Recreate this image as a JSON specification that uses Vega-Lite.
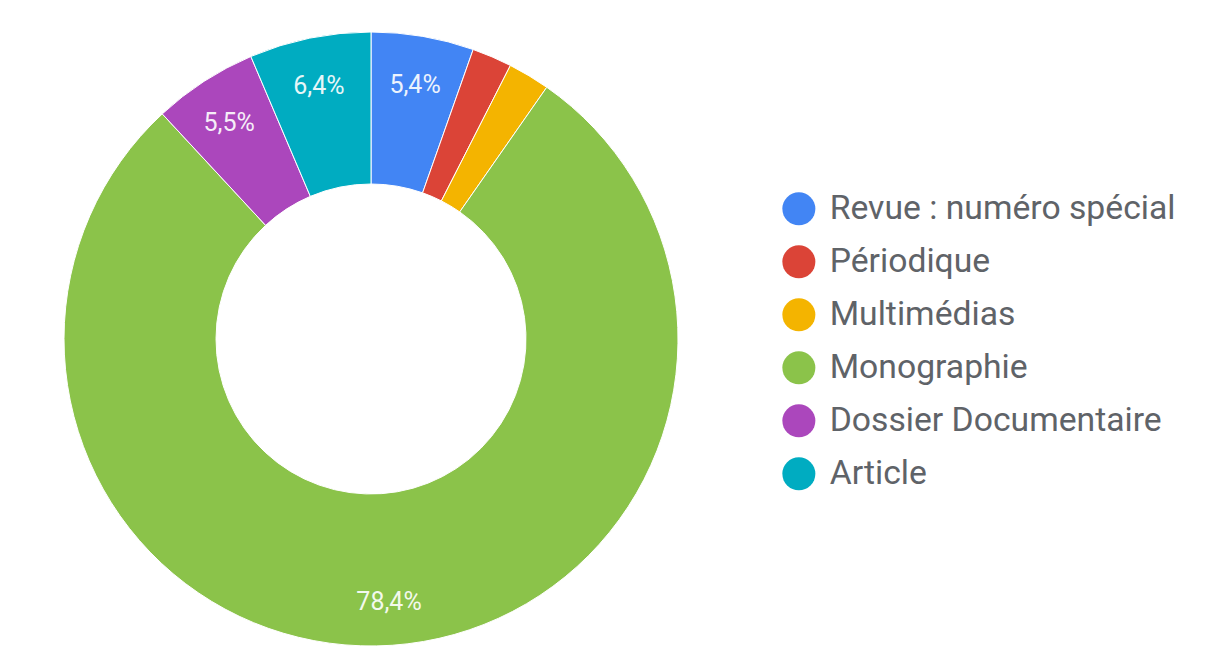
{
  "$schema": "https://vega.github.io/schema/vega-lite/v6.json",
  "autosize": "none",
  "width": 742,
  "height": 632,
  "padding": {"left": 0, "top": 23, "right": 469, "bottom": 0},
  "background": "white",
  "config": {
    "view": {"stroke": null},
    "font": "Roboto",
    "locale": {"number": {"decimal": ",", "thousands": " ", "grouping": [3], "currency": ["", " €"]}}
  },
  "data": {
    "values": [
      {"type": "Revue : numéro spécial", "share": 0.054, "rank": 1},
      {"type": "Périodique", "share": 0.021, "rank": 2},
      {"type": "Multimédias", "share": 0.022, "rank": 3},
      {"type": "Monographie", "share": 0.784, "rank": 4},
      {"type": "Dossier Documentaire", "share": 0.055, "rank": 5},
      {"type": "Article", "share": 0.064, "rank": 6}
    ]
  },
  "encoding": {
    "theta": {"field": "share", "type": "quantitative", "stack": true},
    "order": {"field": "rank", "type": "quantitative"}
  },
  "layer": [
    {
      "mark": {"type": "arc", "outerRadius": 307, "innerRadius": 155, "stroke": "white", "strokeWidth": 1},
      "encoding": {
        "color": {
          "field": "type",
          "type": "nominal",
          "sort": ["Revue : numéro spécial", "Périodique", "Multimédias", "Monographie", "Dossier Documentaire", "Article"],
          "scale": {
            "domain": ["Revue : numéro spécial", "Périodique", "Multimédias", "Monographie", "Dossier Documentaire", "Article"],
            "range": ["#4285F4", "#DB4437", "#F4B400", "#8BC34A", "#AB47BC", "#00ACC1"]
          },
          "legend": {
            "title": null,
            "orient": "none",
            "legendX": 782,
            "legendY": 169,
            "padding": 0,
            "symbolType": "circle",
            "symbolSize": 1089,
            "symbolStrokeWidth": 0,
            "symbolOpacity": 1,
            "labelFont": "Roboto",
            "labelFontSize": 33.7,
            "labelColor": "#5f6368",
            "labelOffset": 14,
            "rowPadding": 18,
            "labelLimit": 500
          }
        }
      }
    },
    {
      "mark": {"type": "text", "radius": 261, "dy": 3, "font": "Roboto", "fontSize": 25, "color": "white", "opacity": 0.9, "align": "center", "baseline": "middle"},
      "encoding": {
        "text": {
          "condition": {"test": "datum.share >= 0.05", "field": "share", "type": "quantitative", "format": ".1%"},
          "value": ""
        }
      }
    }
  ]
}
